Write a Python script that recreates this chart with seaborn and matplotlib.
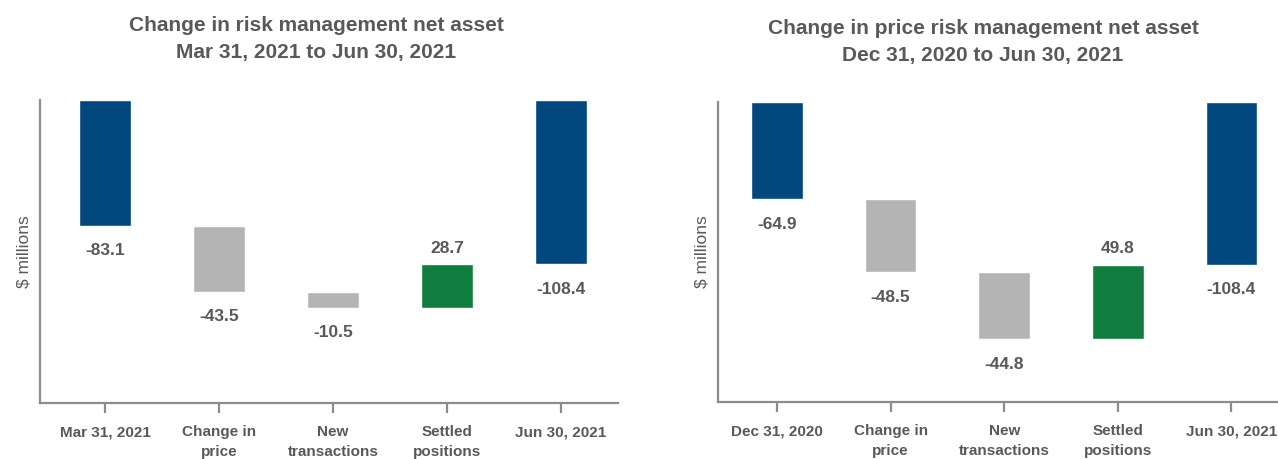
import matplotlib
matplotlib.use("Agg")
import matplotlib.pyplot as plt
import numpy as np
import pandas as pd
import seaborn as sns

# ---- data -------------------------------------------------------------
left_title = "Change in risk management net asset\nMar 31, 2021 to Jun 30, 2021"
left_labels = ["Mar 31, 2021", "Change in\nprice", "New\ntransactions",
               "Settled\npositions", "Jun 30, 2021"]
left_values = [-83.1, -43.5, -10.5, 28.7, -108.4]

right_title = "Change in price risk management net asset\nDec 31, 2020 to Jun 30, 2021"
right_labels = ["Dec 31, 2020", "Change in\nprice", "New\ntransactions",
                "Settled\npositions", "Jun 30, 2021"]
right_values = [-64.9, -48.5, -44.8, 49.8, -108.4]

step_kind = ["total", "change", "change", "change", "total"]

BLUE = "#00487E"
GREY = "#B4B4B4"
GREEN = "#107D3E"
TEXT = "#595959"
AXIS = "#8C8C8C"

sns.set_style("white")
plt.rcParams["font.family"] = ["Liberation Sans", "DejaVu Sans"]


def waterfall_frame(labels, values):
    rows = []
    running = 0.0
    for lab, val, kind in zip(labels, values, step_kind):
        if kind == "total":
            bottom = 0.0
            running = val
            color = BLUE
        else:
            bottom = running
            running += val
            color = GREEN if val > 0 else GREY
        rows.append(dict(label=lab, value=val, bottom=bottom, color=color))
    return pd.DataFrame(rows)


def draw_waterfall(ax, labels, values, xlim):
    df = waterfall_frame(labels, values)
    for color, sub in df.groupby("color", sort=False):
        sns.barplot(data=sub, x="label", y="value", order=labels,
                    bottom=sub["bottom"].values, color=color, width=0.455,
                    errorbar=None, saturation=1, ax=ax)

    # value labels
    for i, row in df.iterrows():
        end = row["bottom"] + row["value"]
        if row["value"] > 0:
            off = 16
        else:
            off = -25
        ax.annotate(f"{row['value']:.1f}", xy=(i, end), xytext=(0, off),
                    textcoords="offset pixels", ha="center", va="center",
                    fontsize=12.5, fontweight="bold", color=TEXT)

    ax.set_ylim(-200, 0)
    ax.set_xlim(*xlim)
    ax.set_yticks([])
    ax.set_xlabel("")
    ax.set_ylabel("$ millions", fontsize=12.5, color=TEXT, labelpad=6)
    for s in ["top", "right"]:
        ax.spines[s].set_visible(False)
    for s in ["left", "bottom"]:
        ax.spines[s].set_color(AXIS)
        ax.spines[s].set_linewidth(1.6)
    ax.tick_params(axis="x", bottom=True, direction="out", length=7,
                   width=1.6, color=AXIS, pad=9, labelsize=11,
                   labelcolor=TEXT)
    for t in ax.get_xticklabels():
        t.set_fontweight("bold")
        t.set_linespacing(1.55)


fig = plt.figure(figsize=(12.78, 4.59), dpi=100)
ax1 = fig.add_axes([40 / 1278, 1 - 403 / 459, 578 / 1278, 303 / 459])
ax2 = fig.add_axes([718 / 1278, 1 - 402 / 459, 560 / 1278, 300 / 459])

draw_waterfall(ax1, left_labels, left_values, (-0.57, 4.5))
draw_waterfall(ax2, right_labels, right_values, (-0.52, 4.41))

fig.text(316 / 1278, 1 - 39 / 459, left_title, ha="center", va="center",
         fontsize=15, fontweight="bold", color=TEXT, linespacing=1.5)
fig.text(983 / 1278, 1 - 42 / 459, right_title, ha="center", va="center",
         fontsize=15, fontweight="bold", color=TEXT, linespacing=1.5)

fig.savefig("out.png", dpi=100)
